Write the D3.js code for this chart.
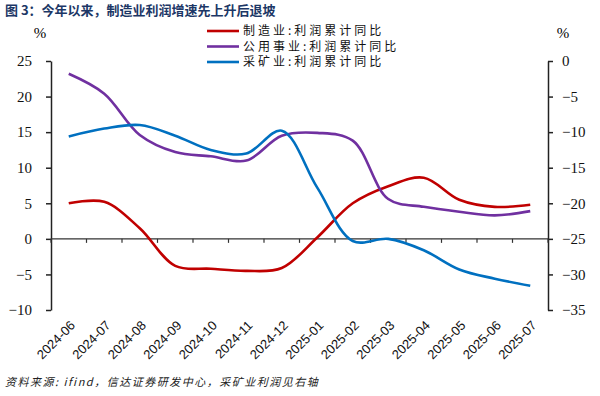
<!DOCTYPE html>
<html>
<head>
<meta charset="utf-8">
<script src="https://cdn.jsdelivr.net/npm/d3@7"></script>
<style>
  body { margin: 0; background: #fff; }
  svg { display: block; }
</style>
</head>
<body>
<div id="chart"></div>
<script>
// data
var months = ["2024-06", "2024-07", "2024-08", "2024-09", "2024-10", "2024-11", "2024-12",
              "2025-01", "2025-02", "2025-03", "2025-04", "2025-05", "2025-06", "2025-07"];
var manufacturing = [5.0, 5.2, 1.5, -3.8, -4.2, -4.5, -4.1, 0.2, 5.0, 7.4, 8.6, 5.5, 4.5, 4.8];
var utilities = [23.2, 20.4, 14.6, 12.2, 11.6, 11.0, 14.5, 14.9, 13.8, 5.6, 4.5, 3.8, 3.3, 3.9];
var mining = [-10.6, -9.5, -9.0, -10.5, -12.5, -13.0, -9.8, -17.8, -25.3, -25.0, -26.6, -29.3, -30.6, -31.6];
var leftTicks = [25, 20, 15, 10, 5, 0, -5, -10];
var rightTicks = [0, -5, -10, -15, -20, -25, -30, -35];
var seriesNames = ["制造业:利润累计同比", "公用事业:利润累计同比", "采矿业:利润累计同比"];

var W = 600, H = 396;
var margin = {top: 61, right: 52, bottom: 86, left: 51},
    width = W - margin.left - margin.right,
    height = H - margin.top - margin.bottom;

var svg = d3.select("#chart")
    .append("svg")
    .attr("width", W)
    .attr("height", H);

// title
svg.append("text")
    .attr("x", 5)
    .attr("y", 15)
    .style("font-family", "'Noto Sans CJK SC', sans-serif")
    .style("font-size", "13px")
    .style("font-weight", "bold")
    .style("fill", "#1c3766")
    .text("图 3：今年以来，制造业利润增速先上升后退坡");

var g = svg.append("g")
    .attr("transform", "translate(" + margin.left + "," + margin.top + ")");

var x = d3.scaleBand()
    .domain(months)
    .range([0, width]);

var yL = d3.scaleLinear()
    .domain([-10, 25])
    .range([height, 0]);

var yR = d3.scaleLinear()
    .domain([-35, 0])
    .range([height, 0]);

var numFont = "'Liberation Serif', 'DejaVu Serif', serif";

// left axis
var axL = g.append("g")
    .call(d3.axisLeft(yL).tickValues(leftTicks).tickSize(5).tickSizeOuter(0).tickPadding(14));
axL.attr("font-family", null);
axL.select(".domain").attr("stroke", "#222").attr("stroke-width", 1.5);
axL.selectAll(".tick line").attr("stroke", "#222").attr("stroke-width", 1.5);
axL.selectAll("text")
    .attr("font-family", numFont)
    .attr("font-size", 15)
    .attr("fill", "#111");

// right axis
var axR = g.append("g")
    .attr("transform", "translate(" + width + ",0)")
    .call(d3.axisRight(yR).tickValues(rightTicks).tickSize(5).tickSizeOuter(0).tickPadding(9));
axR.attr("font-family", null);
axR.select(".domain").attr("stroke", "#222").attr("stroke-width", 1.5);
axR.selectAll(".tick line").attr("stroke", "#222").attr("stroke-width", 1.5);
axR.selectAll("text")
    .attr("font-family", numFont)
    .attr("font-size", 15)
    .attr("fill", "#111");

// unit labels
svg.append("text").attr("x", 40).attr("y", 38)
    .attr("text-anchor", "middle")
    .attr("font-family", numFont).attr("font-size", 15).text("%");
svg.append("text").attr("x", 563).attr("y", 38)
    .attr("text-anchor", "middle")
    .attr("font-family", numFont).attr("font-size", 15).text("%");

// zero line with category ticks
var zero = g.append("g")
    .attr("transform", "translate(0," + yL(0) + ")");
zero.append("line")
    .attr("x1", 0).attr("x2", width)
    .attr("stroke", "#333").attr("stroke-width", 1.2);
zero.selectAll(".ct")
    .data(months.concat(["end"]))
    .enter()
    .append("line")
    .attr("x1", function(d, i) { return i * x.bandwidth(); })
    .attr("x2", function(d, i) { return i * x.bandwidth(); })
    .attr("y1", 0).attr("y2", 4)
    .attr("stroke", "#333").attr("stroke-width", 1.2);

// month labels (rotated)
g.selectAll(".mlab")
    .data(months)
    .enter()
    .append("text")
    .attr("transform", function(d) {
        return "translate(" + (x(d) + x.bandwidth() / 2 + 4) + "," + (height + 13) + ")rotate(-45)";
    })
    .attr("text-anchor", "end")
    .attr("dy", "0.35em")
    .style("font-family", "'Liberation Sans', Arial, sans-serif")
    .style("font-size", "13px")
    .style("fill", "#111")
    .text(function(d) { return d; });

// lines
var cx = function(d, i) { return x(months[i]) + x.bandwidth() / 2; };
var lineL = d3.line().x(cx).y(function(d) { return yL(d); }).curve(d3.curveCatmullRom.alpha(0.5));
var lineR = d3.line().x(cx).y(function(d) { return yR(d); }).curve(d3.curveCatmullRom.alpha(0.5));

var colors = ["#c00000", "#7030a0", "#0070c0"];

g.append("path").datum(manufacturing)
    .attr("d", lineL).attr("fill", "none")
    .attr("stroke", colors[0]).attr("stroke-width", 2.6);
g.append("path").datum(utilities)
    .attr("d", lineL).attr("fill", "none")
    .attr("stroke", colors[1]).attr("stroke-width", 2.6);
g.append("path").datum(mining)
    .attr("d", lineR).attr("fill", "none")
    .attr("stroke", colors[2]).attr("stroke-width", 2.6);

// legend
var leg = svg.selectAll(".leg")
    .data(seriesNames)
    .enter()
    .append("g")
    .attr("transform", function(d, i) { return "translate(207," + (31 + i * 15.5) + ")"; });
leg.append("line")
    .attr("x1", 0).attr("x2", 32)
    .attr("stroke", function(d, i) { return colors[i]; })
    .attr("stroke-width", 2.6);
leg.append("text")
    .attr("x", 36)
    .attr("dy", "0.35em")
    .style("font-family", "'Noto Sans CJK SC', sans-serif")
    .style("font-size", "12px")
    .style("letter-spacing", "3px")
    .style("fill", "#111")
    .text(function(d) { return d; });

// source note
svg.append("text")
    .attr("x", 5)
    .attr("y", 386)
    .style("font-family", "'Noto Sans CJK SC', sans-serif")
    .style("font-size", "11px")
    .style("letter-spacing", "1.5px")
    .style("font-style", "italic")
    .style("fill", "#222")
    .text("资料来源: ifind，信达证券研发中心，采矿业利润见右轴");
</script>
</body>
</html>
